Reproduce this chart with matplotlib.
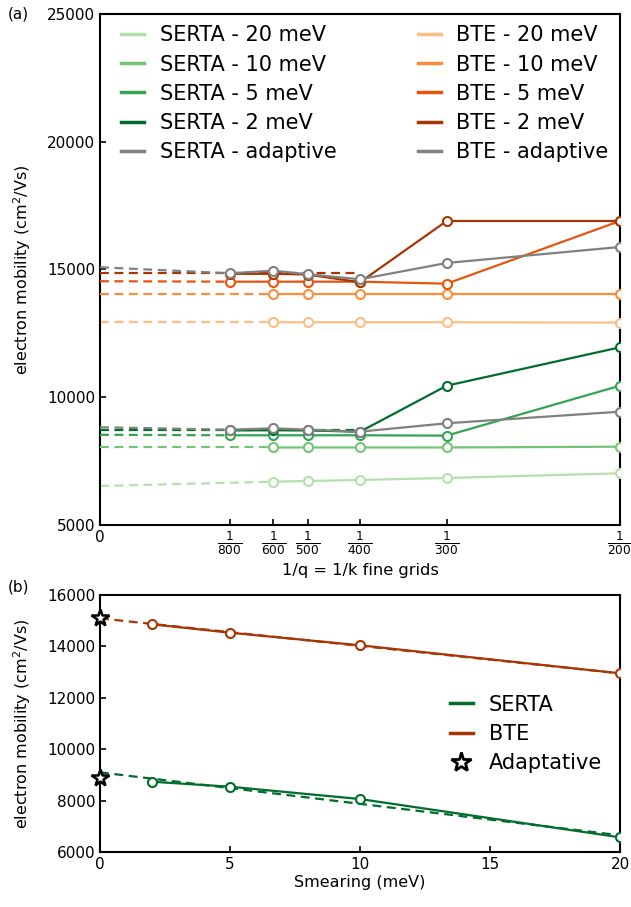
import matplotlib
matplotlib.use("Agg")
import matplotlib.pyplot as plt
from matplotlib.lines import Line2D

# ---------------- data: panel (a) ----------------
grid_labels = ["800", "600", "500", "400", "300", "200"]
grid_x = [1/800, 1/600, 1/500, 1/400, 1/300, 1/200]

serta_20 = [6694, 6722, 6761, 6839, 7023]            # from 1/600
serta_10 = [8033, 8033, 8033, 8033, 8064]            # from 1/600
serta_5 = [8510, 8510, 8510, 8510, 8497, 10452]      # from 1/800
serta_2 = [8700, 8710, 8700, 8650, 10450, 11954]     # from 1/800
serta_ad = [8730, 8784, 8730, 8652, 8980, 9434]      # from 1/800

bte_20 = [12933, 12933, 12933, 12933, 12920]
bte_10 = [14029, 14029, 14029, 14029, 14029]
bte_5 = [14522, 14522, 14522, 14522, 14444, 16898]
bte_2 = [14830, 14830, 14800, 14500, 16898, 16898]
bte_ad = [14851, 14953, 14812, 14616, 15254, 15880]

# extrapolated values at 1/q -> 0
serta_ext = {"20": 6526, "10": 8033, "5": 8530, "2": 8700, "ad": 8823}
bte_ext = {"20": 12933, "10": 14029, "5": 14540, "2": 14851, "ad": 15086}

# ---------------- data: panel (b) ----------------
smear = [2, 5, 10, 20]
serta_s = [8736, 8541, 8062, 6572]
bte_s = [14860, 14533, 14043, 12953]
adapt_serta = 8868
adapt_bte = 15093
fit_x = [0, 20]
fit_serta = [9100, 6650]
fit_bte = [15090, 12950]

plt.rcParams['font.family'] = ['DejaVu Sans']

greens = {"20": "#b5e0ad", "10": "#74c476", "5": "#34a354", "2": "#006d2c"}
oranges = {"20": "#fdbe85", "10": "#fd8d3c", "5": "#e6550d", "2": "#a63603"}
grey = "#808080"

fig = plt.figure(figsize=(6.31, 9.07), dpi=100)
ax1 = fig.add_axes([0.1585, 0.4212, 0.8241, 0.5634])
ax2 = fig.add_axes([0.1585, 0.0606, 0.8241, 0.2834])

lw = 1.6
mk = dict(marker='o', markersize=6.5, markerfacecolor='white', markeredgewidth=1.5)
dsh = (4, 2.5)

def series(ax, xs, ys, ext, dash_end, color, label, z):
    ax.plot(xs, ys, '-', color=color, lw=lw, label=label, zorder=z, **mk)
    yend = ys[xs.index(dash_end)] if dash_end in xs else ext
    ax.plot([0, dash_end], [ext, yend], '--', color=color, lw=lw, zorder=z - 0.5,
            dashes=dsh)

xs6 = grid_x
xs5 = grid_x[1:]

series(ax1, xs5, serta_20, serta_ext["20"], 1/600, greens["20"], "SERTA - 20 meV", 3)
series(ax1, xs5, serta_10, serta_ext["10"], 1/600, greens["10"], "SERTA - 10 meV", 3.1)
series(ax1, xs6, serta_5, serta_ext["5"], 1/800, greens["5"], "SERTA - 5 meV", 3.2)
ax1.plot(xs6, serta_2, '-', color=greens["2"], lw=lw, zorder=3.3, **mk)
ax1.plot([0, 1/400], [serta_ext["2"], serta_ext["2"]], '--', color=greens["2"], lw=lw,
         zorder=2.8, dashes=dsh)
series(ax1, xs6, serta_ad, serta_ext["ad"], 1/800, grey, "SERTA - adaptive", 4)

series(ax1, xs5, bte_20, bte_ext["20"], 1/600, oranges["20"], "BTE - 20 meV", 3)
series(ax1, xs5, bte_10, bte_ext["10"], 1/600, oranges["10"], "BTE - 10 meV", 3.1)
series(ax1, xs6, bte_5, bte_ext["5"], 1/800, oranges["5"], "BTE - 5 meV", 3.2)
ax1.plot(xs6, bte_2, '-', color=oranges["2"], lw=lw, zorder=3.3, **mk)
ax1.plot([0, 1/400], [bte_ext["2"], bte_ext["2"]], '--', color=oranges["2"], lw=lw,
         zorder=2.8, dashes=dsh)
series(ax1, xs6, bte_ad, bte_ext["ad"], 1/800, grey, "BTE - adaptive", 4)

ax1.set_xlim(0, 1/200)
ax1.set_ylim(5000, 25000)
ax1.set_yticks([5000, 10000, 15000, 20000, 25000])
ax1.set_xticks([0] + grid_x)
ax1.set_xticklabels(["0"] + [r"$\frac{1}{%s}$" % g for g in grid_labels])
ax1.set_xlabel("1/q = 1/k fine grids", fontsize=11.7, labelpad=4)
ax1.set_ylabel(r"electron mobility (cm$^2$/Vs)", fontsize=11.5, labelpad=10)

h_s = [Line2D([], [], color=greens[k], lw=2.5) for k in ["20", "10", "5", "2"]] + \
      [Line2D([], [], color=grey, lw=2.5)]
h_b = [Line2D([], [], color=oranges[k], lw=2.5) for k in ["20", "10", "5", "2"]] + \
      [Line2D([], [], color=grey, lw=2.5)]
labs_s = ["SERTA - 20 meV", "SERTA - 10 meV", "SERTA - 5 meV", "SERTA - 2 meV", "SERTA - adaptive"]
labs_b = ["BTE - 20 meV", "BTE - 10 meV", "BTE - 5 meV", "BTE - 2 meV", "BTE - adaptive"]
ax1.legend(h_s + h_b, labs_s + labs_b, ncol=2, frameon=False, fontsize=15,
           loc='upper left', bbox_to_anchor=(0.019, 1.0), borderaxespad=0.15,
           handlelength=1.1, columnspacing=3.9, labelspacing=0.44, handletextpad=0.75)

# ---------------- panel (b) ----------------
ax2.plot(fit_x, fit_serta, '--', color=greens["2"], lw=lw, dashes=dsh, zorder=2)
ax2.plot(fit_x, fit_bte, '--', color=oranges["2"], lw=lw, dashes=dsh, zorder=2)
ax2.plot(smear, serta_s, '-', color=greens["2"], lw=lw, zorder=3, **mk)
ax2.plot(smear, bte_s, '-', color=oranges["2"], lw=lw, zorder=3, **mk)
ax2.plot([0, 0], [adapt_serta, adapt_bte], linestyle='none', marker='*', markersize=13,
         markerfacecolor='white', markeredgecolor='black', markeredgewidth=1.8,
         clip_on=False, zorder=5)
ax2.set_xlim(0, 20)
ax2.set_ylim(6000, 16000)
ax2.set_xticks([0, 5, 10, 15, 20])
ax2.set_yticks([6000, 8000, 10000, 12000, 14000, 16000])
ax2.set_xlabel("Smearing (meV)", fontsize=11.5, labelpad=2)
ax2.set_ylabel(r"electron mobility (cm$^2$/Vs)", fontsize=11.5, labelpad=10)
h2 = [Line2D([], [], color=greens["2"], lw=2.5),
      Line2D([], [], color=oranges["2"], lw=2.5),
      Line2D([], [], linestyle='none', marker='*', markersize=15, markerfacecolor='white',
             markeredgecolor='black', markeredgewidth=2)]
ax2.legend(h2, ["SERTA", "BTE", "Adaptative"], frameon=False, fontsize=15,
           loc='center left', bbox_to_anchor=(0.637, 0.46), handlelength=1.1,
           labelspacing=0.44, handletextpad=0.75)

for ax in (ax1, ax2):
    ax.tick_params(direction='in', labelsize=11, width=1.2, length=4)
    for s in ax.spines.values():
        s.set_linewidth(1.5)
for lab in ax1.get_xticklabels()[1:]:
    lab.set_fontsize(12.5)

fig.text(8/631, 1 - 14/907, "(a)", fontsize=11, va='center', ha='left')
fig.text(8/631, 1 - 587/907, "(b)", fontsize=11, va='center', ha='left')

fig.savefig("out.png", dpi=100)
